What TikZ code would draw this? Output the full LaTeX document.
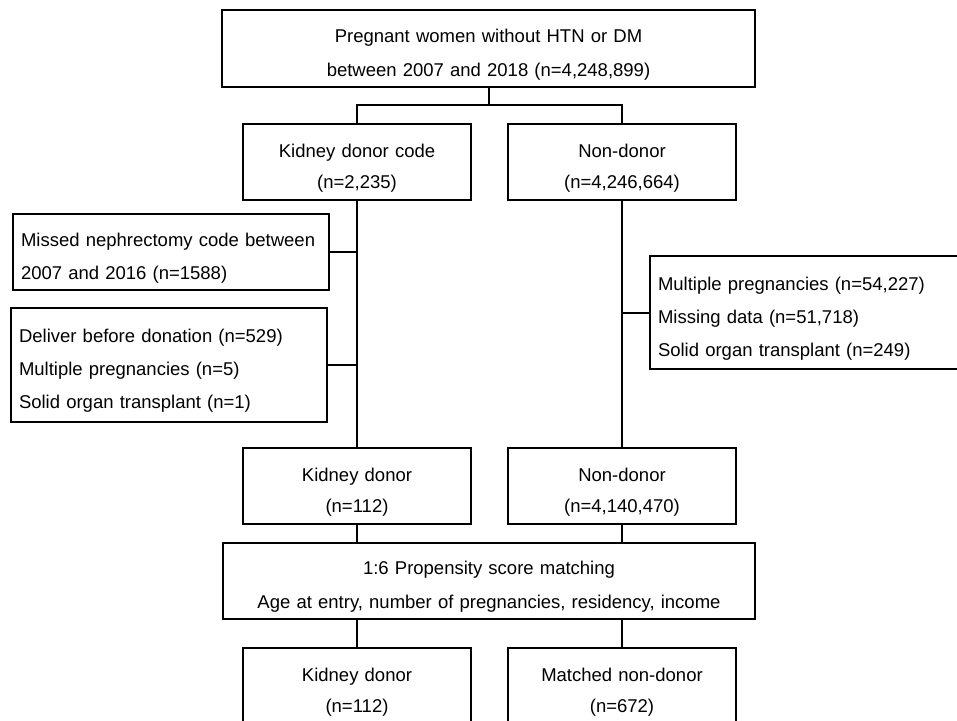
\documentclass[tikz,border=0pt]{standalone}
\usepackage{fontspec}
\setmainfont{Liberation Sans}
\usepackage{tikz}
\usetikzlibrary{positioning}
\tikzstyle{basicblock} = [rectangle, minimum width=228pt, minimum height=76pt, text width=228pt, inner sep=0pt, align=center, draw=black, line width=2pt, font=\fontsize{18.5}{31}\selectfont, execute at begin node={\rule{0pt}{25.5pt}}]
\tikzstyle{wideblock} = [rectangle, minimum width=533pt, minimum height=77pt, text width=532pt, inner sep=0pt, align=center, draw=black, line width=2pt, font=\fontsize{18.5}{34}\selectfont, execute at begin node={\rule{0pt}{25.5pt}}]
\tikzstyle{exclusion} = [rectangle, text width=300pt, inner xsep=8pt, inner ysep=0pt, align=left, draw=black, line width=2pt, font=\fontsize{18.5}{33}\selectfont, execute at begin node={\rule{0pt}{25.5pt}}]
\tikzstyle{connector} = [line width=2pt]

\begin{document}
\begin{tikzpicture}[x=1pt, y=-1pt]
	\useasboundingbox (0,0) rectangle (957,720);
	\clip (0,0) rectangle (957,720);
	
	\node (population) [wideblock, minimum height=77pt] at (488.5,48.5) {Pregnant women without HTN or DM\\between 2007 and 2018 (n=4,248,899)};
	
	\node (donorCode) [basicblock] at (357,162) {Kidney donor code\\(n=2,235)};
	
	\node (nonDonorCode) [basicblock] at (622,162) {Non-donor\\(n=4,246,664)};
	
	\node (missedCode) [exclusion, minimum height=76pt] at (171,252) {Missed nephrectomy code between\\2007 and 2016 (n=1588)};
	
	\node (donorExcl) [exclusion, minimum height=114pt] at (169,365) {Deliver before donation (n=529)\\Multiple pregnancies (n=5)\\Solid organ transplant (n=1)};
	
	\node (nonDonorExcl) [exclusion, minimum height=113pt] at (808,312.5) {Multiple pregnancies (n=54,227)\\Missing data (n=51,718)\\Solid organ transplant (n=249)};
	
	\node (donor) [basicblock] at (357,486) {Kidney donor\\(n=112)};
	
	\node (nonDonor) [basicblock] at (622,486) {Non-donor\\(n=4,140,470)};
	
	\node (matching) [wideblock, minimum width=532pt, minimum height=76pt] at (489,581) {1:6 Propensity score matching\\Age at entry, number of pregnancies, residency, income};
	
	\node (donorMatched) [basicblock] at (357,686) {Kidney donor\\(n=112)};
	
	\node (nonDonorMatched) [basicblock] at (622,686) {Matched non-donor\\(n=672)};
	
	\coordinate (split) at (488.5,105);
	\draw [connector] (population) -- (split);
	\draw [connector] (donorCode) |- (split) -| (nonDonorCode);
	
	\draw [connector] (donorCode) -- (donor);
	\draw [connector] (missedCode.east) -- (missedCode.east -| donorCode);
	\draw [connector] (donorExcl.east) -- (donorExcl.east -| donorCode);
	
	\draw [connector] (nonDonorCode) -- (nonDonor);
	\draw [connector] (nonDonorExcl.west) -- (nonDonorExcl.west -| nonDonorCode);
	
	\draw [connector] (donor) -- (donor |- matching.north);
	\draw [connector] (nonDonor) -- (nonDonor |- matching.north);
	\draw [connector] (matching.south -| donorMatched) -- (donorMatched);
	\draw [connector] (matching.south -| nonDonorMatched) -- (nonDonorMatched);
\end{tikzpicture}
\end{document}
